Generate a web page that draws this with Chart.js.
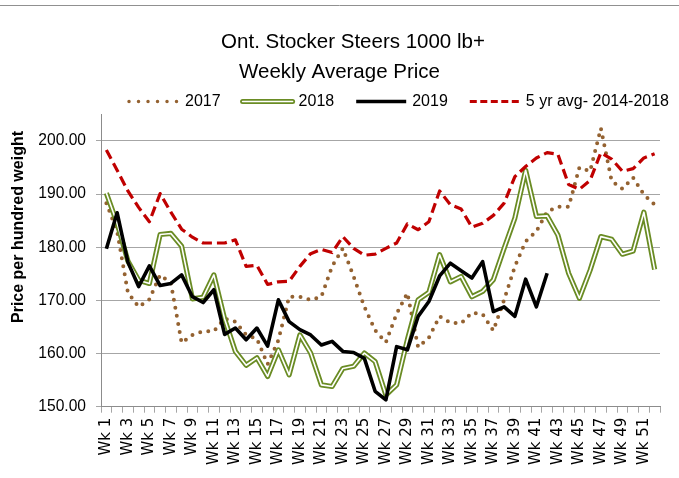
<!DOCTYPE html>
<html>
<head>
<meta charset="utf-8">
<script src="https://cdn.jsdelivr.net/npm/chart.js@4.4.1/dist/chart.umd.min.js"></script>
<style>
  body { margin: 0; background: #fff; }
</style>
</head>
<body>
<canvas id="chart-steers" width="679" height="478"></canvas>
<script>
// semanas
var weeks = [];
for (var w = 1; w <= 52; w++) weeks.push('Wk ' + w);

var yTicks = [150, 160, 170, 180, 190, 200];

var data2017 = [188.3, 183.0, 171.5, 168.8, 170.2, 174.8, 173.3, 162.0, 163.5, 164.2,
                164.2, 166.6, 166.0, 163.5, 162.8, 158.0, 162.5, 170.7, 170.7, 170.1,
                170.7, 176.4, 179.8, 174.5, 168.8, 164.4, 162.1, 167.5, 171.4, 161.2,
                163.0, 167.0, 165.8, 165.7, 167.7, 167.4, 164.3, 170.1, 176.4, 181.1,
                183.0, 186.7, 187.6, 187.6, 195.0, 194.3, 202.4, 192.5, 191.0, 193.1,
                189.9, 188.0];

var data2018 = [190.2, 184.5, 177.4, 173.8, 173.2, 182.4, 182.6, 180.2, 170.3, 170.6,
                174.8, 166.5, 160.4, 157.8, 159.2, 155.7, 160.7, 156.0, 163.5, 160.1,
                154.1, 153.8, 157.2, 157.6, 160.1, 158.5, 152.2, 154.1, 162.6, 170.1,
                171.5, 178.6, 173.5, 174.5, 170.7, 171.7, 173.9, 179.8, 185.5, 194.5,
                185.8, 185.9, 182.3, 175.1, 170.4, 175.7, 182.0, 181.5, 178.7, 179.3,
                186.6, 175.8];

var data2019 = [179.7, 186.5, 177.2, 172.6, 176.5, 172.8, 173.2, 174.8, 170.7, 169.6,
                172.0, 163.6, 164.8, 162.6, 164.8, 161.4, 170.1, 166.0, 164.5, 163.5,
                161.6, 162.3, 160.4, 160.2, 159.1, 152.9, 151.3, 161.3, 160.7, 167.0,
                169.8, 174.6, 177.0, 175.6, 174.2, 177.3, 167.9, 168.8, 167.0, 174.0,
                168.8, 175.1];

var dataAvg = [198.3, 194.5, 190.6, 187.5, 184.8, 190.1, 186.6, 183.4, 181.9, 180.8,
               180.8, 180.8, 181.4, 176.4, 176.6, 173.0, 173.5, 173.6, 176.4, 178.8,
               179.6, 179.0, 182.0, 179.8, 178.5, 178.7, 179.8, 180.8, 184.4, 183.3,
               184.8, 190.6, 188.0, 187.2, 183.8, 184.5, 186.0, 188.3, 193.3, 195.2,
               196.8, 197.8, 197.5, 191.8, 190.9, 192.6, 197.8, 196.6, 194.3, 194.8,
               196.8, 197.6];

var colBrown = '#946231';
var colGreen = '#6a8c24';
var colRed = '#c00000';
var sans = '"Liberation Sans", Arial, sans-serif';

// titulo, leyenda y titulo del eje (dibujados a mano)
var decorPlugin = {
    id: 'decor',
    afterDraw: function (chart) {
        var ctx = chart.ctx;
        ctx.save();
        // linea gris superior
        ctx.strokeStyle = '#909090';
        ctx.lineWidth = 1;
        ctx.beginPath();
        ctx.moveTo(0, 5.5);
        ctx.lineTo(679, 5.5);
        ctx.stroke();

        ctx.fillStyle = '#000';
        ctx.textBaseline = 'alphabetic';
        ctx.textAlign = 'center';
        ctx.font = '20.5px ' + sans;
        ctx.fillText('Ont. Stocker Steers 1000 lb+', 353, 48);
        ctx.fillText('Weekly Average Price', 339.5, 78);

        // leyenda
        var items = [
            { text: '2017', kind: 'dots' },
            { text: '2018', kind: 'double' },
            { text: '2019', kind: 'solid' },
            { text: '5 yr avg- 2014-2018', kind: 'dash' }
        ];
        ctx.font = '16px ' + sans;
        ctx.textAlign = 'left';
        ctx.textBaseline = 'middle';
        var sampleW = 54, gapText = 4, gapItem = 20, ly = 101.5;
        var total = 0;
        items.forEach(function (it) { total += sampleW + gapText + ctx.measureText(it.text).width; });
        total += gapItem * (items.length - 1);
        var x = 398 - total / 2;
        items.forEach(function (it) {
            ctx.save();
            ctx.beginPath();
            ctx.moveTo(x + 2, ly);
            ctx.lineTo(x + sampleW - 2, ly);
            if (it.kind === 'dots') {
                ctx.strokeStyle = colBrown; ctx.lineWidth = 3.5; ctx.lineCap = 'round';
                ctx.setLineDash([0, 9.5]);
                ctx.stroke();
            } else if (it.kind === 'double') {
                ctx.strokeStyle = colGreen; ctx.lineWidth = 5; ctx.lineCap = 'round';
                ctx.stroke();
                ctx.strokeStyle = '#fff'; ctx.lineWidth = 1.6;
                ctx.stroke();
            } else if (it.kind === 'solid') {
                ctx.strokeStyle = '#000'; ctx.lineWidth = 3.5;
                ctx.stroke();
            } else {
                ctx.strokeStyle = colRed; ctx.lineWidth = 3;
                ctx.setLineDash([7, 3.5]);
                ctx.stroke();
            }
            ctx.restore();
            x += sampleW + gapText;
            ctx.fillText(it.text, x, ly);
            x += ctx.measureText(it.text).width + gapItem;
        });

        // titulo eje y
        ctx.translate(19, 227);
        ctx.rotate(-Math.PI / 2);
        ctx.textAlign = 'center';
        ctx.textBaseline = 'middle';
        ctx.font = 'bold 16px ' + sans;
        ctx.fillText('Price per hundred weight', 0, 0);
        ctx.restore();
    }
};

var contexto = document.getElementById('chart-steers').getContext('2d');
var chartSteers = new Chart(contexto, {
    type: 'line',
    data: {
        labels: weeks,
        datasets: [{
            label: '5 yr avg- 2014-2018',
            data: dataAvg,
            borderColor: colRed,
            borderWidth: 3.2,
            borderDash: [10, 5],
            order: 1
        }, {
            label: '2019',
            data: data2019,
            borderColor: '#000',
            borderWidth: 3.6,
            order: 2
        }, {
            label: '2018 inner',
            data: data2018,
            borderColor: '#fff',
            borderWidth: 1.6,
            order: 3
        }, {
            label: '2018',
            data: data2018,
            borderColor: colGreen,
            borderWidth: 5.2,
            order: 4
        }, {
            label: '2017',
            data: data2017,
            borderColor: colBrown,
            borderWidth: 4,
            borderDash: [0, 8.2],
            borderCapStyle: 'round',
            order: 5
        }]
    },
    options: {
        responsive: false,
        animation: false,
        events: [],
        elements: {
            point: { radius: 0 },
            line: { tension: 0, fill: false, borderJoinStyle: 'round' }
        },
        layout: { padding: { top: 114.4, right: 19, left: 0, bottom: 0 } },
        plugins: {
            legend: { display: false },
            title: { display: false },
            tooltip: { enabled: false }
        },
        scales: {
            x: {
                type: 'category',
                offset: true,
                afterFit: function (scale) { scale.height = 71.3; },
                grid: {
                    display: true,
                    offset: true,
                    drawOnChartArea: false,
                    drawTicks: true,
                    tickLength: 6,
                    color: '#a6a6a6'
                },
                border: { display: true, color: '#8c8c8c', width: 1 },
                ticks: {
                    autoSkip: false,
                    maxRotation: 90,
                    minRotation: 90,
                    padding: 5,
                    color: '#000',
                    font: { family: '"DejaVu Sans", sans-serif', size: 15 },
                    callback: function (value, index) {
                        return index % 2 === 0 ? weeks[index] : '';
                    }
                }
            },
            y: {
                min: 150,
                max: 205,
                afterFit: function (scale) { scale.width = 101; },
                afterBuildTicks: function (scale) {
                    scale.ticks = yTicks.map(function (v) { return { value: v }; });
                },
                grid: {
                    color: '#a6a6a6',
                    lineWidth: 1,
                    drawTicks: true,
                    tickLength: 5
                },
                border: { display: true, color: '#8c8c8c', width: 1 },
                ticks: {
                    padding: 10,
                    color: '#000',
                    font: { family: sans, size: 15.6 },
                    callback: function (value) { return Number(value).toFixed(2); }
                }
            }
        }
    },
    plugins: [decorPlugin]
});
</script>
</body>
</html>
